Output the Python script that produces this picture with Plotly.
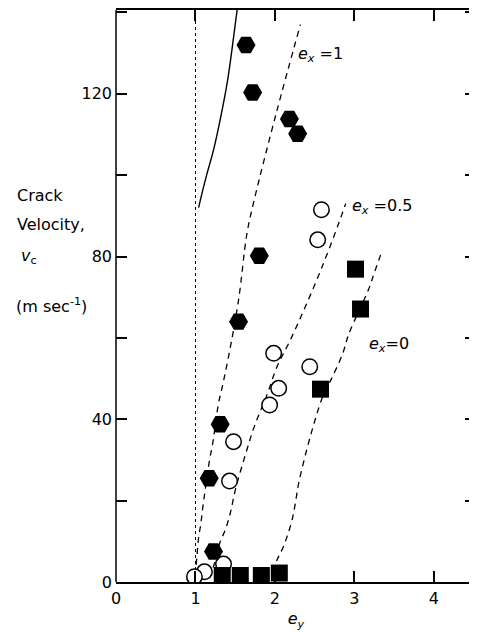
import plotly.graph_objects as go

# ---- data ----
hex_x = [1.636, 1.719, 2.182, 2.286, 1.803, 1.542, 1.311, 1.173, 1.227]
hex_y = [132.0, 120.3, 113.8, 110.2, 80.2, 64.0, 38.8, 25.5, 7.5]

circ_x = [2.585, 2.538, 1.984, 2.438, 2.047, 1.933, 1.479, 1.429, 1.353, 1.113, 0.987]
circ_y = [91.5, 84.1, 56.2, 52.9, 47.6, 43.5, 34.5, 24.8, 4.4, 2.5, 1.3]

sq_x = [3.014, 3.077, 2.573, 1.337, 1.564, 1.829, 2.055]
sq_y = [76.9, 67.1, 47.4, 1.6, 1.6, 1.6, 2.2]

# fitted curves
fit1_x = [0.996, 1.018, 1.038, 1.068, 1.093, 1.122, 1.177, 1.214, 1.290, 1.333, 1.416, 1.542, 1.648, 1.740, 2.020, 2.320]
fit1_y = [1.5, 6.2, 10.7, 14.4, 18.5, 22.6, 30.0, 33.7, 43.9, 47.6, 55.4, 69.3, 85.7, 94.0, 115.5, 137.0]

fit05_x = [1.17, 1.227, 1.311, 1.375, 1.438, 1.501, 1.627, 1.740, 1.900, 2.026, 2.194, 2.383, 2.594, 2.803, 2.890]
fit05_y = [1.0, 3.8, 9.9, 12.8, 16.9, 22.6, 31.2, 38.2, 46.0, 52.9, 59.5, 67.7, 77.5, 88.2, 93.0]

fit0_x = [1.98, 2.026, 2.089, 2.152, 2.215, 2.257, 2.299, 2.40, 2.50, 2.60, 2.70, 2.85, 2.93, 3.18, 3.25, 3.35]
fit0_y = [2.5, 5.4, 7.9, 11.1, 15.2, 19.4, 24.3, 32.5, 39.5, 45.5, 49.5, 56.0, 61.0, 72.0, 76.0, 81.5]

solid_x = [1.04, 1.063, 1.14, 1.23, 1.32, 1.40, 1.46, 1.524]
solid_y = [92.0, 94.0, 100.0, 106.4, 114.5, 122.8, 131.0, 140.6]

limit_x = [1.0, 1.0]
limit_y = [0, 140.6]

x_ticks = [0, 1, 2, 3, 4]
y_ticks = [0, 40, 80, 120]

FONT = "DejaVu Sans"
# the page body adds an 8px margin, so the figure is 8px smaller than the window
PAGE_OFF = 8
W, H = 477 - PAGE_OFF, 632 - PAGE_OFF

fig = go.Figure()
dash_style = dict(color="black", width=1.3, dash="6px,5px")
for xs, ys in [(fit1_x, fit1_y), (fit05_x, fit05_y), (fit0_x, fit0_y)]:
    fig.add_trace(go.Scatter(x=xs, y=ys, mode="lines", line=dict(**dash_style, shape="spline"),
                             showlegend=False, hoverinfo="skip"))
fig.add_trace(go.Scatter(x=solid_x, y=solid_y, mode="lines",
                         line=dict(color="black", width=1.4, shape="spline"), showlegend=False))
fig.add_trace(go.Scatter(x=limit_x, y=limit_y, mode="lines",
                         line=dict(color="black", width=1, dash="dot"), showlegend=False))

fig.add_trace(go.Scatter(x=circ_x, y=circ_y, mode="markers", showlegend=False,
                         marker=dict(symbol="circle", size=15.5, color="white",
                                     line=dict(color="black", width=1.5))))
fig.add_trace(go.Scatter(x=sq_x, y=sq_y, mode="markers", showlegend=False,
                         marker=dict(symbol="square", size=17, color="black",
                                     line=dict(width=0))))
fig.add_trace(go.Scatter(x=hex_x, y=hex_y, mode="markers", showlegend=False,
                         marker=dict(symbol="hexagon2", size=19, color="black",
                                     line=dict(width=0))))

tick_style = dict(ticks="inside", ticklen=11, tickwidth=1.5, tickcolor="black")
fig.update_layout(
    width=W, height=H,
    margin=dict(l=108, r=1, t=2, b=50),
    plot_bgcolor="white", paper_bgcolor="white",
    font=dict(family=FONT, size=16, color="black"),
    xaxis=dict(range=[0, 4.53], tickvals=x_ticks, **tick_style,
               showline=True, linecolor="black", linewidth=1.5,
               mirror="ticks", showgrid=False, zeroline=False, ticklabelstandoff=1,
               title=dict(text="<i>e<sub>y</sub></i>", standoff=6, font=dict(size=16))),
    yaxis=dict(range=[0, 140.6], tickvals=y_ticks, **tick_style,
               minor=dict(dtick=20, **tick_style, showgrid=False),
               showline=False, mirror="ticks", showgrid=False, zeroline=False,
               ticklabelstandoff=3),
    shapes=[
        dict(type="line", xref="paper", yref="paper", x0=0, x1=0, y0=0, y1=1,
             line=dict(color="black", width=1.5)),
        dict(type="line", xref="paper", yref="y", x0=1, x1=1, y0=0, y1=41,
             line=dict(color="black", width=1.5)),
    ],
)

ann = []
# curve labels
ann.append(dict(x=2.26, y=129.6, xref="x", yref="y", xanchor="left", yanchor="middle",
                text="<i>e<sub>x</sub></i> =1", showarrow=False, font=dict(size=16)))
ann.append(dict(x=2.95, y=92.2, xref="x", yref="y", xanchor="left", yanchor="middle",
                text="<i>e<sub>x</sub></i> =0.5", showarrow=False, font=dict(size=16)))
ann.append(dict(x=3.16, y=58.3, xref="x", yref="y", xanchor="left", yanchor="middle",
                text="<i>e<sub>x</sub></i>=0", showarrow=False, font=dict(size=16)))
# y title (multi-line block to the left); positions in window pixels
plot_w = W - 108 - 1
plot_h = H - 2 - 50
def px(p):
    return (p - PAGE_OFF - 108) / plot_w
def py(p):
    return (H - 50 - (p - PAGE_OFF)) / plot_h
for txt, ypix, xpix in [("Crack", 195, 15), ("Velocity,", 224, 15),
                        ("<i>v</i><sub>c</sub>", 257, 19), ("(m sec<sup>-1</sup>)", 305, 14)]:
    ann.append(dict(x=px(xpix), y=py(ypix), xref="paper", yref="paper",
                    xanchor="left", yanchor="middle", text=txt, showarrow=False,
                    font=dict(size=16)))
fig.update_layout(annotations=ann)

fig.write_html("out.html")
